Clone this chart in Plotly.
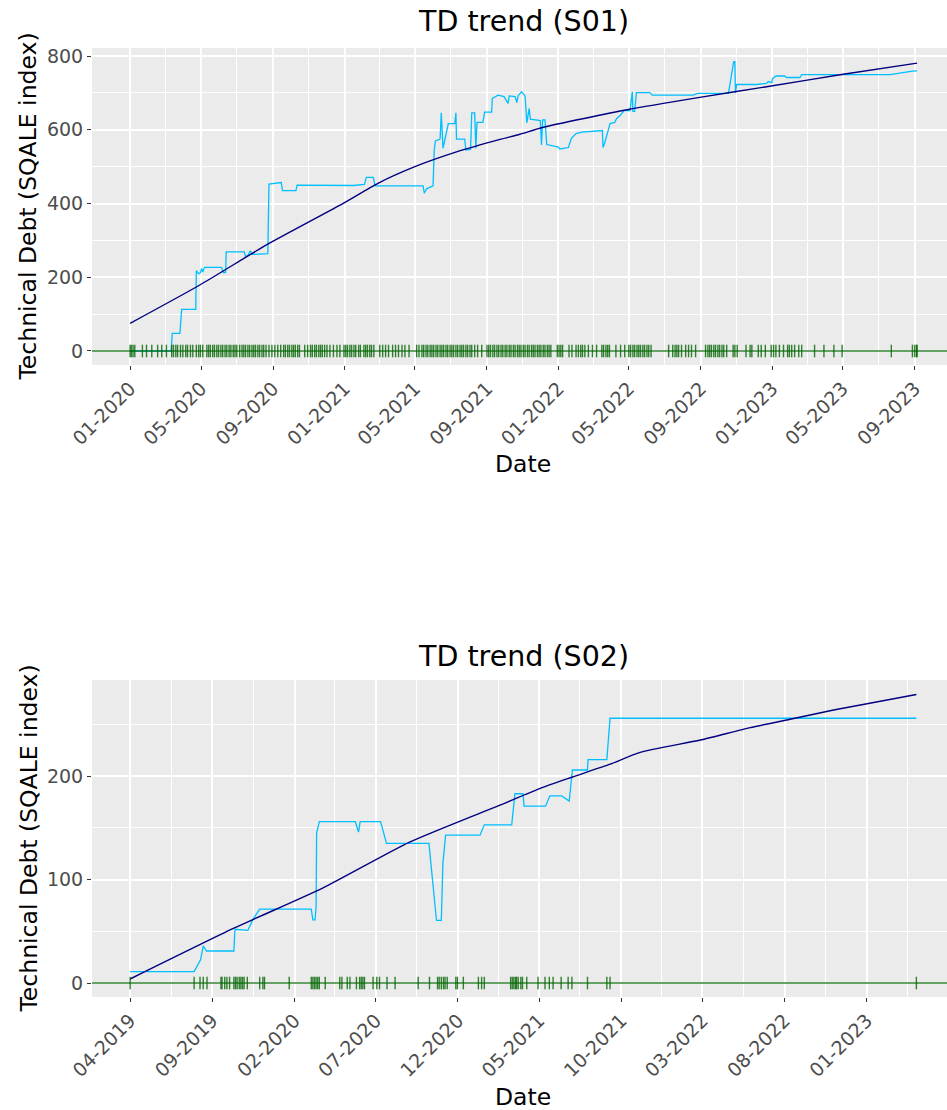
import plotly.graph_objects as go
import pandas as pd

# ---------------- S01 ----------------
S01_DATES = [
    "2020-01-01", "2020-03-11", "2020-03-13", "2020-03-26", "2020-03-29", "2020-04-22",
    "2020-04-23", "2020-04-27", "2020-04-30", "2020-05-02", "2020-05-04", "2020-05-07",
    "2020-06-05", "2020-06-08", "2020-06-12", "2020-06-13", "2020-07-14", "2020-07-16",
    "2020-07-21", "2020-07-24", "2020-07-28", "2020-08-23", "2020-08-25", "2020-09-08",
    "2020-09-15", "2020-09-17", "2020-10-10", "2020-10-12", "2020-12-18", "2021-01-16",
    "2021-02-04", "2021-02-07", "2021-02-19", "2021-02-22", "2021-05-15", "2021-05-17",
    "2021-05-21", "2021-06-01", "2021-06-03", "2021-06-05", "2021-06-13", "2021-06-15",
    "2021-06-18", "2021-06-21", "2021-06-27", "2021-07-08", "2021-07-10", "2021-07-11",
    "2021-07-25", "2021-07-27", "2021-08-04", "2021-08-06", "2021-08-11", "2021-08-13",
    "2021-08-15", "2021-08-25", "2021-08-28", "2021-09-09", "2021-09-10", "2021-09-20",
    "2021-09-30", "2021-10-07", "2021-10-09", "2021-10-19", "2021-10-22", "2021-10-24",
    "2021-10-30", "2021-11-05", "2021-11-08", "2021-11-12", "2021-11-14", "2021-12-01",
    "2021-12-03", "2021-12-05", "2021-12-09", "2021-12-12", "2022-01-01", "2022-01-03",
    "2022-01-18", "2022-01-23", "2022-01-31", "2022-02-10", "2022-03-13", "2022-03-17",
    "2022-03-18", "2022-03-21", "2022-03-30", "2022-04-07", "2022-04-10", "2022-04-17",
    "2022-04-23", "2022-05-03", "2022-05-07", "2022-05-08", "2022-05-11", "2022-05-14",
    "2022-06-06", "2022-06-10", "2022-08-19", "2022-08-26", "2022-10-18", "2022-10-27",
    "2022-10-29", "2022-10-30", "2022-11-01", "2022-12-05", "2022-12-22", "2022-12-25",
    "2022-12-31", "2023-01-01", "2023-01-07", "2023-01-22", "2023-01-25", "2023-02-17",
    "2023-02-20", "2023-07-21", "2023-08-28", "2023-09-05",
]
S01_TD = [
    0, 0, 48, 48, 113, 113,
    218, 210, 212, 224, 214, 227,
    227, 213, 213, 269, 269, 255,
    262, 272, 262, 264, 453, 455,
    457, 435, 435, 450, 450, 449,
    452, 471, 471, 448, 448, 428,
    440, 448, 545, 570, 575, 646,
    550, 570, 617, 617, 646, 575,
    575, 545, 547, 646, 646, 550,
    620, 620, 648, 648, 685, 694,
    690, 672, 692, 690, 674, 692,
    703, 692, 619, 658, 629, 625,
    559, 627, 627, 560, 553, 548,
    552, 577, 590, 594, 598, 598,
    552, 565, 617, 620, 630, 640,
    652, 652, 703, 650, 650, 701,
    701, 694, 694, 699, 699, 785,
    785, 700, 723, 723, 726, 731,
    728, 738, 746, 746, 742, 742,
    750, 750, 759, 760,
]
S01_TREND_DATES = [
    "2020-01-01", "2020-04-29", "2020-08-23", "2020-12-29", "2021-02-27", "2021-05-01",
    "2021-07-11", "2021-09-23", "2021-10-27", "2021-12-06", "2022-04-30", "2022-08-30",
    "2022-12-22", "2023-04-29", "2023-09-05",
]
S01_TREND = [75, 179, 290, 400, 455, 500, 540, 574, 588, 607, 655, 688, 717, 750, 781]
S01_COMMITS = [
    "2020-01-01", "2020-01-03", "2020-01-06", "2020-01-09", "2020-01-22", "2020-01-29",
    "2020-02-07", "2020-02-17", "2020-02-24", "2020-03-03", "2020-03-12", "2020-03-15",
    "2020-03-19", "2020-03-22", "2020-03-27", "2020-03-31", "2020-04-05", "2020-04-08",
    "2020-04-13", "2020-04-17", "2020-04-23", "2020-04-27", "2020-04-30", "2020-05-04",
    "2020-05-11", "2020-05-14", "2020-05-17", "2020-05-21", "2020-05-24", "2020-05-28",
    "2020-05-31", "2020-06-04", "2020-06-07", "2020-06-11", "2020-06-14", "2020-06-18",
    "2020-06-21", "2020-06-25", "2020-06-28", "2020-07-01", "2020-07-06", "2020-07-10",
    "2020-07-13", "2020-07-16", "2020-07-20", "2020-07-23", "2020-07-27", "2020-07-30",
    "2020-08-02", "2020-08-06", "2020-08-09", "2020-08-13", "2020-08-16", "2020-08-20",
    "2020-08-25", "2020-08-30", "2020-09-04", "2020-09-09", "2020-09-14", "2020-09-19",
    "2020-09-22", "2020-09-26", "2020-09-29", "2020-10-03", "2020-10-06", "2020-10-09",
    "2020-10-13", "2020-10-16", "2020-10-25", "2020-10-30", "2020-11-04", "2020-11-07",
    "2020-11-11", "2020-11-14", "2020-11-18", "2020-11-21", "2020-11-24", "2020-11-28",
    "2020-12-02", "2020-12-07", "2020-12-13", "2020-12-19", "2020-12-24", "2020-12-31",
    "2021-01-03", "2021-01-06", "2021-01-10", "2021-01-13", "2021-01-17", "2021-01-20",
    "2021-01-25", "2021-01-28", "2021-02-03", "2021-02-06", "2021-02-09", "2021-02-13",
    "2021-02-16", "2021-02-20", "2021-03-02", "2021-03-07", "2021-03-12", "2021-03-17",
    "2021-03-24", "2021-03-29", "2021-04-03", "2021-04-09", "2021-04-14", "2021-04-21",
    "2021-05-04", "2021-05-08", "2021-05-13", "2021-05-16", "2021-05-20", "2021-05-23",
    "2021-05-27", "2021-05-30", "2021-06-02", "2021-06-06", "2021-06-09", "2021-06-13",
    "2021-06-16", "2021-06-19", "2021-06-23", "2021-06-26", "2021-06-30", "2021-07-03",
    "2021-07-06", "2021-07-10", "2021-07-13", "2021-07-17", "2021-07-20", "2021-07-23",
    "2021-07-27", "2021-07-30", "2021-08-03", "2021-08-06", "2021-08-11", "2021-08-16",
    "2021-08-23", "2021-09-01", "2021-09-04", "2021-09-07", "2021-09-11", "2021-09-14",
    "2021-09-18", "2021-09-21", "2021-09-25", "2021-09-28", "2021-10-02", "2021-10-05",
    "2021-10-09", "2021-10-12", "2021-10-16", "2021-10-19", "2021-10-23", "2021-10-26",
    "2021-10-29", "2021-11-02", "2021-11-05", "2021-11-09", "2021-11-12", "2021-11-16",
    "2021-11-19", "2021-11-22", "2021-11-26", "2021-11-29", "2021-12-02", "2021-12-06",
    "2021-12-09", "2021-12-13", "2021-12-16", "2021-12-19", "2021-12-30", "2022-01-02",
    "2022-01-05", "2022-01-08", "2022-01-19", "2022-01-24", "2022-01-31", "2022-02-04",
    "2022-02-08", "2022-02-11", "2022-02-15", "2022-02-21", "2022-02-28", "2022-03-07",
    "2022-03-16", "2022-03-19", "2022-03-23", "2022-03-26", "2022-03-29", "2022-04-09",
    "2022-04-17", "2022-04-24", "2022-05-01", "2022-05-04", "2022-05-08", "2022-05-11",
    "2022-05-15", "2022-05-18", "2022-05-21", "2022-05-25", "2022-05-28", "2022-06-01",
    "2022-06-04", "2022-06-08", "2022-07-08", "2022-07-15", "2022-07-19", "2022-07-22",
    "2022-07-25", "2022-07-30", "2022-08-06", "2022-08-11", "2022-08-16", "2022-08-23",
    "2022-09-09", "2022-09-13", "2022-09-16", "2022-09-19", "2022-09-23", "2022-09-26",
    "2022-09-30", "2022-10-03", "2022-10-07", "2022-10-10", "2022-10-15", "2022-10-26",
    "2022-10-29", "2022-11-02", "2022-11-17", "2022-11-24", "2022-11-27", "2022-12-08",
    "2022-12-13", "2022-12-20", "2022-12-30", "2023-01-03", "2023-01-07", "2023-01-13",
    "2023-01-20", "2023-01-27", "2023-01-30", "2023-02-03", "2023-02-08", "2023-02-15",
    "2023-02-20", "2023-03-14", "2023-03-30", "2023-04-16", "2023-04-30", "2023-07-23",
    "2023-08-28", "2023-09-01", "2023-09-04", "2023-09-05",
]
S01_TICKS = [
    "2020-01-01", "2020-05-01", "2020-09-01", "2021-01-01", "2021-05-01", "2021-09-01",
    "2022-01-01", "2022-05-01", "2022-09-01", "2023-01-01", "2023-05-01", "2023-09-01",
    "2024-01-01",
]
S01_YTICKS = [0, 200, 400, 600, 800]
S01_YMINOR = [100, 300, 500, 700]

# ---------------- S02 ----------------
S02_DATES = [
    "2019-04-01", "2019-07-29", "2019-08-10", "2019-08-15", "2019-08-21", "2019-10-11",
    "2019-10-13", "2019-11-06", "2019-11-16", "2019-11-28", "2020-03-03", "2020-03-06",
    "2020-03-10", "2020-03-12", "2020-03-13", "2020-03-18", "2020-05-24", "2020-05-30",
    "2020-06-02", "2020-07-10", "2020-07-21", "2020-10-08", "2020-10-22", "2020-10-31",
    "2020-11-03", "2020-11-08", "2021-01-11", "2021-01-19", "2021-03-11", "2021-03-17",
    "2021-04-01", "2021-04-03", "2021-05-13", "2021-05-21", "2021-06-12", "2021-06-26",
    "2021-07-02", "2021-07-30", "2021-07-31", "2021-09-04", "2021-09-10", "2023-04-03",
]
S02_TD = [
    11, 11, 22.5, 36, 31, 31,
    52, 51, 62, 71.5, 71.5, 61,
    61, 74, 145, 156, 156, 146,
    156, 156, 135, 135, 60.5, 60.5,
    116, 143, 143, 153, 153, 183,
    183, 171, 171, 181, 181, 176,
    206, 206, 216, 216, 256, 256,
]
S02_TREND_DATES = [
    "2019-04-01", "2019-10-11", "2020-03-25", "2020-09-01", "2021-02-17", "2021-05-02",
    "2021-07-01", "2021-09-10", "2021-11-05", "2022-02-25", "2022-05-29", "2022-08-11",
    "2022-10-31", "2023-04-03",
]
S02_TREND = [3.9, 53, 92, 136, 172, 188, 199, 211.6, 223, 235, 247, 255, 264, 279]
S02_COMMITS = [
    "2019-04-01", "2019-07-29", "2019-08-09", "2019-08-15", "2019-08-22", "2019-09-17",
    "2019-09-19", "2019-09-24", "2019-09-28", "2019-10-03", "2019-10-11", "2019-10-14",
    "2019-10-17", "2019-10-21", "2019-10-24", "2019-10-27", "2019-10-30", "2019-11-05",
    "2019-11-28", "2019-12-04", "2019-12-07", "2020-01-22", "2020-03-03", "2020-03-06",
    "2020-03-09", "2020-03-12", "2020-03-15", "2020-03-18", "2020-03-29", "2020-04-25",
    "2020-04-29", "2020-05-09", "2020-05-14", "2020-05-26", "2020-06-01", "2020-06-04",
    "2020-06-07", "2020-06-10", "2020-06-26", "2020-07-03", "2020-07-08", "2020-07-22",
    "2020-08-06", "2020-09-18", "2020-10-09", "2020-10-24", "2020-10-27", "2020-10-31",
    "2020-11-04", "2020-11-07", "2020-11-11", "2020-11-27", "2020-11-30", "2020-12-11",
    "2021-01-08", "2021-01-14", "2021-01-19", "2021-03-09", "2021-03-12", "2021-03-15",
    "2021-03-18", "2021-03-20", "2021-03-23", "2021-03-28", "2021-03-31", "2021-04-08",
    "2021-04-29", "2021-05-12", "2021-05-20", "2021-05-27", "2021-06-11", "2021-06-24",
    "2021-07-01", "2021-07-30", "2021-09-04", "2021-09-10", "2023-04-03",
]
S02_TICKS = [
    "2019-04-01", "2019-09-01", "2020-02-01", "2020-07-01", "2020-12-01", "2021-05-01",
    "2021-10-01", "2022-03-01", "2022-08-01", "2023-01-01", "2023-06-01",
]
S02_YTICKS = [0, 100, 200]
S02_YMINOR = [50, 150, 250]

# ---------------- styling ----------------
FONT = "DejaVu Sans"
W, H = 947, 1110
ML, MR, MT, MB = 92, 0, 48, 113
PW, PH = W - ML - MR, H - MT - MB
PANEL_BG = "#EBEBEB"
LINE_C = "#00BFFF"
TREND_C = "#000080"
RUG_C = "rgba(0,100,0,0.8)"
HLINE_C = "rgba(0,100,0,0.8)"
TICK_SIZE = 19
AXIS_TITLE_SIZE = 23.5
TITLE_SIZE = 28.5


def fy(ypx):
    """Convert a pixel row into a paper fraction."""
    return (H - MB - ypx) / PH


def fx(xpx):
    return (xpx - ML) / PW


def minor_mid(ticks):
    t = pd.to_datetime(ticks)
    return [(a + (b - a) / 2).strftime("%Y-%m-%d") for a, b in zip(t[:-1], t[1:])]


fig = go.Figure()

panels = [
    ("x", "y", S01_DATES, S01_TD, S01_TREND_DATES, S01_TREND, S01_COMMITS),
    ("x2", "y2", S02_DATES, S02_TD, S02_TREND_DATES, S02_TREND, S02_COMMITS),
]
for xa, ya, d, v, td, tv, cm in panels:
    fig.add_trace(go.Scatter(x=d, y=v, mode="lines", xaxis=xa, yaxis=ya,
                             line=dict(color=LINE_C, width=1.3), hoverinfo="skip"))
    fig.add_trace(go.Scatter(x=td, y=tv, mode="lines", xaxis=xa, yaxis=ya,
                             line=dict(color=TREND_C, width=1.4, shape="spline", smoothing=0.6),
                             hoverinfo="skip"))
    fig.add_trace(go.Scatter(x=cm, y=[0] * len(cm), mode="markers", xaxis=xa, yaxis=ya,
                             marker=dict(symbol="line-ns", size=9,
                                         line=dict(width=1.4, color=RUG_C)),
                             hoverinfo="skip"))
    fig.add_shape(type="line", xref=f"{xa} domain", x0=0, x1=1, yref=ya, y0=0, y1=0,
                  line=dict(color=HLINE_C, width=1.6), layer="above")

top_dom = [fy(365), 1.0]
bot_dom = [0.0, fy(680)]

xcommon = dict(
    type="date", showgrid=True, gridcolor="white", gridwidth=1.6, zeroline=False,
    showline=False, ticks="outside", ticklen=4, tickwidth=1, tickcolor="#333333",
    tickformat="%m-%Y", tickangle=-45,
    tickfont=dict(family=FONT, size=TICK_SIZE, color="#4D4D4D"),
)
ycommon = dict(
    showgrid=True, gridcolor="white", gridwidth=1.6, zeroline=False, showline=False,
    ticks="outside", ticklen=4, tickwidth=1, tickcolor="#333333",
    tickfont=dict(family=FONT, size=TICK_SIZE, color="#4D4D4D"),
)

fig.update_layout(
    width=W, height=H, showlegend=False,
    margin=dict(l=ML, r=MR, t=MT, b=MB),
    paper_bgcolor="white", plot_bgcolor=PANEL_BG,
    font=dict(family=FONT, color="black"),
    xaxis=dict(**xcommon, domain=[0, 1], anchor="y",
               range=["2019-10-28", "2023-10-26"],
               tickmode="array", tickvals=S01_TICKS,
               minor=dict(tickvals=minor_mid(S01_TICKS), showgrid=True,
                          gridcolor="white", gridwidth=0.8, ticks="")),
    yaxis=dict(**ycommon, domain=top_dom, anchor="x", range=[-38, 822],
               tickmode="array", tickvals=S01_YTICKS,
               minor=dict(tickvals=S01_YMINOR, showgrid=True,
                          gridcolor="white", gridwidth=0.8, ticks="")),
    xaxis2=dict(**xcommon, domain=[0, 1], anchor="y2",
                range=["2019-01-20", "2023-05-30"],
                tickmode="array", tickvals=S02_TICKS,
                minor=dict(tickvals=minor_mid(S02_TICKS), showgrid=True,
                           gridcolor="white", gridwidth=0.8, ticks="")),
    yaxis2=dict(**ycommon, domain=bot_dom, anchor="x2", range=[-13.5, 293],
                tickmode="array", tickvals=S02_YTICKS,
                minor=dict(tickvals=S02_YMINOR, showgrid=True,
                           gridcolor="white", gridwidth=0.8, ticks="")),
)

labels = [
    ("TD trend (S01)", 523, 22, TITLE_SIZE, 0),
    ("Date", 523, 464, AXIS_TITLE_SIZE, 0),
    ("Technical Debt (SQALE index)", 28, 206.5, AXIS_TITLE_SIZE, -90),
    ("TD trend (S02)", 523, 656, TITLE_SIZE, 0),
    ("Date", 523, 1097, AXIS_TITLE_SIZE, 0),
    ("Technical Debt (SQALE index)", 28, 838.5, AXIS_TITLE_SIZE, -90),
]
for text, xp, yp, size, ang in labels:
    fig.add_annotation(text=text, xref="paper", yref="paper", x=fx(xp), y=fy(yp),
                       xanchor="center", yanchor="middle", showarrow=False,
                       textangle=ang, font=dict(family=FONT, size=size, color="black"))

fig.write_html("out.html")
